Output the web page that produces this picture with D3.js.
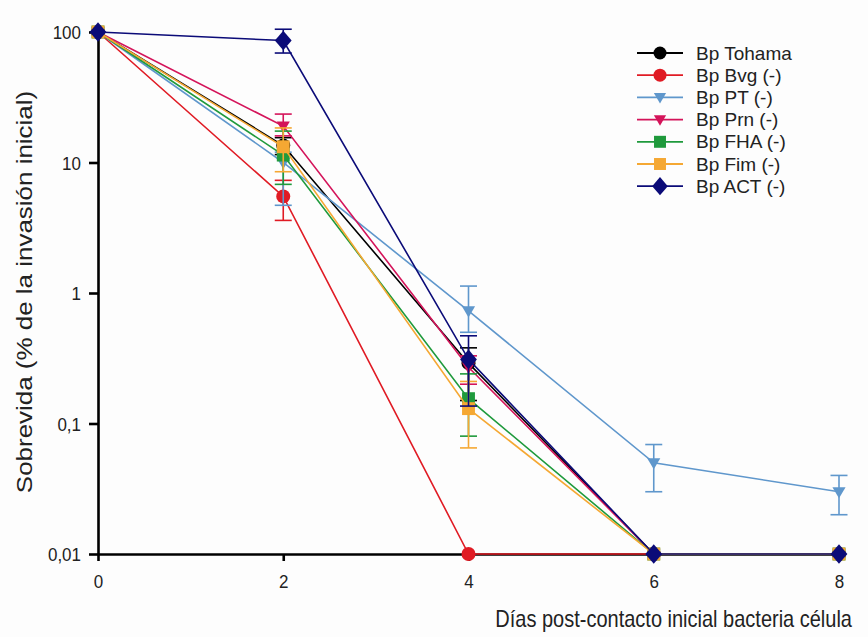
<!DOCTYPE html>
<html>
<head>
<meta charset="utf-8">
<script src="https://cdn.jsdelivr.net/npm/d3@7"></script>
<style>
  body { margin: 0; background: #fdfdfd; }
  text { font-family: "Liberation Sans", Arial, sans-serif; }
</style>
</head>
<body>
<div id="chart"></div>
<script>
var days = [0, 2, 4, 6, 8];
var xTicks = [0, 2, 4, 6, 8];
var yTicks = [100, 10, 1, 0.1, 0.01];
var yTickLabels = ["100", "10", "1", "0,1", "0,01"];

var names = ["Bp Tohama", "Bp Bvg (-)", "Bp PT (-)", "Bp Prn (-)", "Bp FHA (-)", "Bp Fim (-)", "Bp ACT (-)"];
var colors = ["#000000", "#e01b24", "#5f97cc", "#d4145a", "#1f9a3c", "#f5a833", "#0b0b78"];
var shapes = ["circle", "circle", "triangleDown", "triangleDown", "square", "square", "diamond"];

// mean values per day
var tohama = [100, 13.5, 0.29, 0.01, 0.01];
var bvg    = [100, 5.5, 0.01, 0.01, 0.01];
var pt     = [100, 10, 0.73, 0.05, 0.03];
var prn    = [100, 19, 0.27, 0.01, 0.01];
var fha    = [100, 11.4, 0.155, 0.01, 0.01];
var fim    = [100, 13.2, 0.13, 0.01, 0.01];
var act    = [100, 86, 0.31, 0.01, 0.01];

// error bar ends (low, high), null = none
var tohamaLo = [null, 11.5, 0.15, null, null], tohamaHi = [null, 15.5, 0.38, null, null];
var bvgLo    = [null, 3.6, null, null, null],  bvgHi    = [null, 7.3, null, null, null];
var ptLo     = [null, 4.7, 0.5, 0.03, 0.02],   ptHi     = [null, 12, 1.13, 0.069, 0.04];
var prnLo    = [null, 16, 0.2, null, null],    prnHi    = [null, 23.5, 0.33, null, null];
var fhaLo    = [null, 6.8, 0.08, null, null],  fhaHi    = [null, 17.4, 0.24, null, null];
var fimLo    = [null, 8.5, 0.065, null, null], fimHi    = [null, 18.4, 0.21, null, null];
var actLo    = [null, 69, 0.136, null, null],  actHi    = [null, 105, 0.47, null, null];

var values = [tohama, bvg, pt, prn, fha, fim, act];
var lows = [tohamaLo, bvgLo, ptLo, prnLo, fhaLo, fimLo, actLo];
var highs = [tohamaHi, bvgHi, ptHi, prnHi, fhaHi, fimHi, actHi];

var W = 868, H = 637;
var svg = d3.select("#chart").append("svg")
  .attr("width", W).attr("height", H);

var x = d3.scaleLinear().domain([0, 8]).range([98, 839]);
var y = d3.scaleLog().domain([0.01, 100]).range([554, 32]);

// axes
var xAxis = svg.append("g")
  .attr("transform", "translate(0,554)")
  .call(d3.axisBottom(x).tickValues(xTicks).tickSize(7).tickSizeOuter(0).tickFormat(d3.format("d")));
var yAxis = svg.append("g")
  .attr("transform", "translate(98,0)")
  .call(d3.axisLeft(y).tickValues(yTicks).tickSize(9).tickSizeOuter(0)
    .tickFormat(function(d, i) { return yTickLabels[i]; }));
[xAxis, yAxis].forEach(function(a) {
  a.select(".domain").attr("stroke", "#000").attr("stroke-width", 2.6);
  a.selectAll(".tick line").attr("stroke", "#000").attr("stroke-width", 2.6);
  a.selectAll(".tick text").attr("font-size", 17).attr("fill", "#222");
});
// slightly taller glyphs, as in the source image
xAxis.selectAll(".tick text")
  .attr("y", 0).attr("dy", null)
  .attr("transform", "translate(0,34) scale(1,1.12)");
yAxis.selectAll(".tick text")
  .attr("x", 0).attr("dy", "0.35em")
  .attr("transform", "translate(-17,0) scale(1,1.12)");

svg.append("text")
  .attr("transform", "translate(32,292) scale(1,1.18) rotate(-90)")
  .attr("text-anchor", "middle")
  .attr("font-size", 22).attr("fill", "#222")
  .text("Sobrevida (% de la invasión inicial)");
svg.append("text")
  .attr("transform", "translate(852,627) scale(1,1.2)")
  .attr("text-anchor", "end")
  .attr("font-size", 20).attr("fill", "#222")
  .text("Días post-contacto inicial bacteria célula");

function marker(g, shape, cx, cy, color, s) {
  if (shape == "circle") {
    g.append("circle").attr("cx", cx).attr("cy", cy).attr("r", s * 0.5).attr("fill", color);
  } else if (shape == "square") {
    g.append("rect").attr("x", cx - s * 0.46).attr("y", cy - s * 0.46)
      .attr("width", s * 0.92).attr("height", s * 0.92).attr("fill", color);
  } else if (shape == "triangleDown") {
    var h = s * 0.47;
    g.append("path").attr("d", "M" + (cx - h) + "," + (cy - h * 0.7) + "L" + (cx + h) + "," + (cy - h * 0.7) + "L" + cx + "," + (cy + h) + "Z")
      .attr("fill", color);
  } else if (shape == "diamond") {
    var dw = s * 0.6, dh = s * 0.7;
    g.append("path").attr("d", "M" + cx + "," + (cy - dh) + "L" + (cx + dw) + "," + cy + "L" + cx + "," + (cy + dh) + "L" + (cx - dw) + "," + cy + "Z")
      .attr("fill", color);
  }
}

var line = d3.line()
  .x(function(d, i) { return x(days[i]); })
  .y(function(d) { return y(d); });

values.forEach(function(vals, k) {
  var g = svg.append("g");
  var col = colors[k];
  g.append("path").datum(vals)
    .attr("fill", "none").attr("stroke", col).attr("stroke-width", 1.6)
    .attr("d", line);
  vals.forEach(function(v, i) {
    var lo = lows[k][i], hi = highs[k][i];
    var cx = x(days[i]);
    if (lo != null && hi != null) {
      g.append("line").attr("x1", cx).attr("x2", cx).attr("y1", y(lo)).attr("y2", y(hi))
        .attr("stroke", col).attr("stroke-width", 1.6);
      [lo, hi].forEach(function(e) {
        g.append("line").attr("x1", cx - 8.5).attr("x2", cx + 8.5).attr("y1", y(e)).attr("y2", y(e))
          .attr("stroke", col).attr("stroke-width", 1.6);
      });
    }
    marker(g, shapes[k], cx, y(v), col, 14);
  });
});

// legend
var legend = svg.append("g");
names.forEach(function(n, k) {
  var ly = 53 + k * 22.2;
  legend.append("line").attr("x1", 637).attr("x2", 683).attr("y1", ly).attr("y2", ly)
    .attr("stroke", colors[k]).attr("stroke-width", 1.8);
  marker(legend, shapes[k], 660, ly, colors[k], 13);
  legend.append("text").attr("x", 696).attr("y", ly + 6.5)
    .attr("font-size", 19).attr("fill", "#222").text(n);
});
</script>
</body>
</html>
